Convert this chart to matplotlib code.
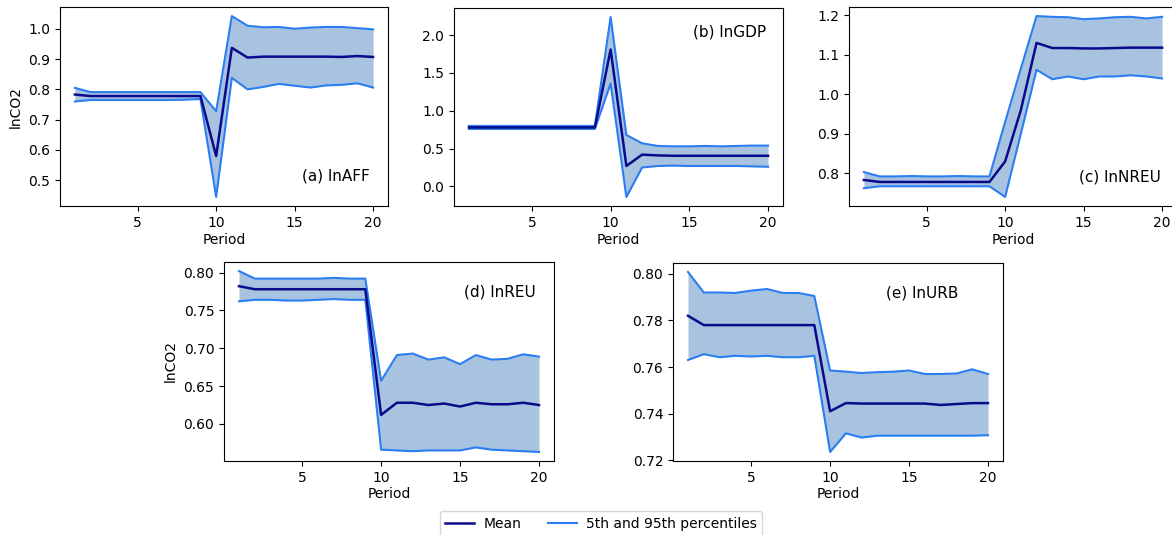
import matplotlib
matplotlib.use("Agg")
import matplotlib.pyplot as plt
import numpy as np

period = np.arange(1, 21)

# (a) lnAFF
aff_mean = [0.783, 0.778, 0.778, 0.778, 0.778, 0.778, 0.778, 0.778, 0.778, 0.580,
            0.937, 0.905, 0.908, 0.908, 0.908, 0.908, 0.908, 0.907, 0.910, 0.907]
aff_hi = [0.805, 0.791, 0.791, 0.791, 0.791, 0.791, 0.791, 0.791, 0.791, 0.728,
          1.042, 1.010, 1.005, 1.006, 1.000, 1.004, 1.006, 1.006, 1.002, 0.998]
aff_lo = [0.760, 0.765, 0.765, 0.765, 0.765, 0.765, 0.765, 0.766, 0.768, 0.445,
          0.838, 0.800, 0.808, 0.818, 0.812, 0.806, 0.813, 0.815, 0.820, 0.806]

# (b) lnGDP
gdp_mean = [0.78, 0.78, 0.78, 0.78, 0.78, 0.78, 0.78, 0.78, 0.78, 1.81,
            0.27, 0.42, 0.41, 0.405, 0.405, 0.405, 0.405, 0.405, 0.405, 0.405]
gdp_hi = [0.80, 0.80, 0.80, 0.80, 0.80, 0.80, 0.80, 0.80, 0.80, 2.24,
          0.68, 0.57, 0.535, 0.53, 0.53, 0.535, 0.53, 0.535, 0.54, 0.54]
gdp_lo = [0.76, 0.76, 0.76, 0.76, 0.76, 0.76, 0.76, 0.76, 0.76, 1.36,
          -0.14, 0.25, 0.27, 0.275, 0.27, 0.27, 0.27, 0.27, 0.265, 0.26]

# (c) lnNREU
nreu_mean = [0.783, 0.778, 0.778, 0.778, 0.778, 0.778, 0.778, 0.778, 0.778, 0.830,
             0.960, 1.130, 1.117, 1.117, 1.116, 1.116, 1.117, 1.118, 1.118, 1.118]
nreu_hi = [0.803, 0.792, 0.792, 0.793, 0.792, 0.792, 0.793, 0.792, 0.792, 0.930,
           1.065, 1.198, 1.196, 1.195, 1.190, 1.192, 1.195, 1.196, 1.192, 1.196]
nreu_lo = [0.762, 0.767, 0.767, 0.767, 0.767, 0.767, 0.767, 0.767, 0.767, 0.740,
           0.900, 1.062, 1.038, 1.045, 1.038, 1.045, 1.045, 1.048, 1.045, 1.040]

# (d) lnREU
reu_mean = [0.782, 0.778, 0.778, 0.778, 0.778, 0.778, 0.778, 0.778, 0.778, 0.612,
            0.628, 0.628, 0.625, 0.627, 0.623, 0.628, 0.626, 0.626, 0.628, 0.625]
reu_hi = [0.802, 0.792, 0.792, 0.792, 0.792, 0.792, 0.793, 0.792, 0.792, 0.657,
          0.691, 0.693, 0.685, 0.688, 0.679, 0.691, 0.685, 0.686, 0.692, 0.689]
reu_lo = [0.762, 0.764, 0.764, 0.763, 0.763, 0.764, 0.765, 0.764, 0.764, 0.566,
          0.565, 0.564, 0.565, 0.565, 0.565, 0.569, 0.566, 0.565, 0.564, 0.563]

# (e) lnURB
urb_mean = [0.782, 0.778, 0.778, 0.778, 0.778, 0.778, 0.778, 0.778, 0.778, 0.741,
            0.7445, 0.7443, 0.7443, 0.7443, 0.7443, 0.7443, 0.7437, 0.7441, 0.7445, 0.7445]
urb_hi = [0.8008, 0.792, 0.792, 0.7918, 0.7928, 0.7935, 0.7918, 0.7918, 0.7905, 0.7585,
          0.758, 0.7574, 0.7578, 0.758, 0.7585, 0.757, 0.757, 0.7572, 0.759, 0.757]
urb_lo = [0.763, 0.7655, 0.7642, 0.7648, 0.7645, 0.7648, 0.7642, 0.7642, 0.7648, 0.7235,
          0.7315, 0.7297, 0.7305, 0.7305, 0.7305, 0.7305, 0.7305, 0.7305, 0.7305, 0.7307]

panels = [
    ("(a) lnAFF", aff_mean, aff_hi, aff_lo),
    ("(b) lnGDP", gdp_mean, gdp_hi, gdp_lo),
    ("(c) lnNREU", nreu_mean, nreu_hi, nreu_lo),
    ("(d) lnREU", reu_mean, reu_hi, reu_lo),
    ("(e) lnURB", urb_mean, urb_hi, urb_lo),
]

W, H = 1172, 535
# axes boxes in pixels: left, top, right, bottom
boxes = [(60, 7, 388, 206), (454, 8, 783, 206), (849, 7, 1177, 206),
         (224, 262, 554, 461), (673, 263, 1003, 461)]
# label position (axes fraction, right aligned) and whether to show ylabel
label_pos = [(0.945, 0.15), (0.948, 0.88), (0.951, 0.146), (0.945, 0.85), (0.864, 0.85)]
show_ylab = [True, False, False, True, False]

mean_color = "#0a0a8c"
pct_color = "#2a7ef2"
fill_color = "#a8c3df"

fig = plt.figure(figsize=(W / 100, H / 100), dpi=100)

for i, (name, m, hi, lo) in enumerate(panels):
    l, t, r, b = boxes[i]
    ax = fig.add_axes([l / W, 1 - b / H, (r - l) / W, (b - t) / H])
    ax.fill_between(period, lo, hi, color=fill_color, linewidth=0)
    ax.plot(period, hi, color=pct_color, lw=1.5, label="5th and 95th percentiles")
    ax.plot(period, lo, color=pct_color, lw=1.5)
    ax.plot(period, m, color=mean_color, lw=1.8, label="Mean")
    ax.set_xticks([5, 10, 15, 20])
    ax.set_xlabel("Period", fontsize=10, labelpad=2)
    if show_ylab[i]:
        ax.set_ylabel("lnCO2", fontsize=10)
    ax.tick_params(labelsize=10)
    ax.text(label_pos[i][0], label_pos[i][1], name, transform=ax.transAxes,
            ha="right", va="center", fontsize=11)
    if i == 0:
        handles, labels = ax.get_legend_handles_labels()

fig.legend([handles[1], handles[0]], [labels[1], labels[0]], loc="upper center",
           bbox_to_anchor=(601 / W, 1 - 511 / H), borderaxespad=0, ncol=2,
           fontsize=10, frameon=True, handlelength=2.1, handletextpad=0.65,
           columnspacing=1.9)

fig.savefig("out.png", dpi=100)
